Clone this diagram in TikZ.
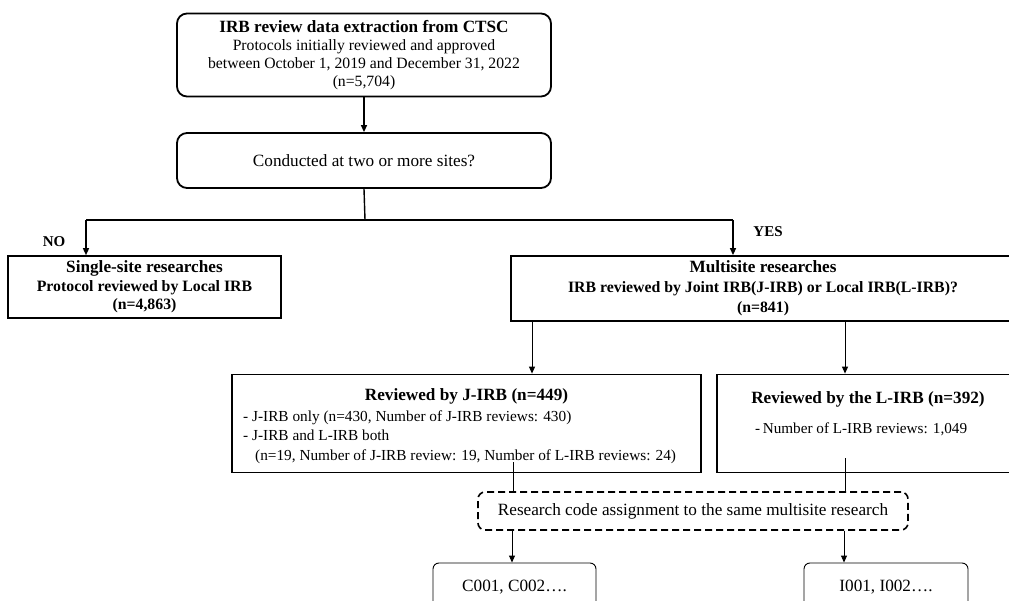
\documentclass[tikz,border=0pt]{standalone}
\usepackage{fontspec}
\setmainfont{Liberation Serif}
\usetikzlibrary{arrows.meta}
\newcommand{\bigf}{\fontsize{17.2}{18}\selectfont}
\begin{document}
\begin{tikzpicture}[x=1pt,y=-1pt,
  rbox/.style={draw,line width=1.8pt,rounded corners=10pt,inner sep=0pt,align=center},
  sbox/.style={draw,line width=1.6pt,inner sep=0pt,align=center},
  dbox/.style={draw,line width=1.6pt,dash pattern=on 7pt off 4pt,rounded corners=7pt,inner sep=0pt,align=center},
  cbox/.style={draw,line width=0.9pt,rounded corners=6pt,inner sep=0pt,align=center},
  txt/.style={inner sep=0pt},
  lab/.style={inner sep=0pt,font=\fontsize{15}{16}\selectfont\bfseries},
  arr/.style={line width=1.4pt,-{Triangle[length=7pt,width=6pt]}},
  ln/.style={line width=1.4pt},
  tarr/.style={line width=0.9pt,-{Triangle[length=7pt,width=6pt]}},
  tln/.style={line width=0.9pt}]
\useasboundingbox (0,0) rectangle (1009,601);
\clip (0,0) rectangle (1009,601);
% boxes
\node[rbox,minimum width=374pt,minimum height=83pt,font=\fontsize{15.7}{17.8}\selectfont] (top) at (364,55)
  {{\bigf\bfseries IRB review data extraction from CTSC}\\Protocols initially reviewed and approved\\between October 1, 2019 and December 31, 2022\\(n=5,704)};
\node[rbox,minimum width=374pt,minimum height=55pt,font=\bigf] (sites) at (364,160.5)
  {Conducted at two or more sites?};
\node[sbox,minimum width=273pt,minimum height=62pt,font=\fontsize{15.8}{18.6}\selectfont\bfseries] (single) at (144.5,287)
  {{\bigf Single-site researches}\\Protocol reviewed by Local IRB\\(n=4,863)};
\node[sbox,line width=1.8pt,minimum width=504pt,minimum height=65pt,font=\fontsize{15.8}{20}\selectfont\bfseries] (multi) at (763,288.5)
  {{\bigf Multisite researches}\\IRB reviewed by Joint IRB(J-IRB) or Local IRB(L-IRB)?\\(n=841)};
\node[sbox,line width=1.8pt,minimum width=469pt,minimum height=98pt] (jirb) at (466.5,423.5) {};
\node[txt,font=\bigf\bfseries] (jtitle) at (466.5,396) {Reviewed by J-IRB (n=449)};
\node[txt,anchor=west,align=left,font=\fontsize{15.3}{19.3}\selectfont] (jlist) at (243,437)
  {- J-IRB only (n=430, Number of J-IRB reviews: 430)\\- J-IRB and L-IRB both\\\hspace*{12pt}(n=19, Number of J-IRB review: 19, Number of L-IRB reviews: 24)};
\node[sbox,line width=1.8pt,minimum width=302pt,minimum height=98pt] (lirb) at (868,423.5) {};
\node[txt,font=\bigf\bfseries] (ltitle) at (868,399) {Reviewed by the L-IRB (n=392)};
\node[txt,anchor=west,font=\fontsize{15.2}{18}\selectfont] (llist) at (755,429) {-\,Number of L-IRB reviews: 1,049};
\node[dbox,minimum width=430pt,minimum height=38pt,font=\bigf] (code) at (693,511)
  {Research code assignment to the same multisite research};
\node[cbox,minimum width=163pt,minimum height=48pt,font=\bigf] (cc) at (514.5,587) {C001, C002….};
\node[cbox,minimum width=164pt,minimum height=48pt,font=\bigf] (ii) at (886,587) {I001, I002….};
% labels
\node[lab] (no) at (54,242) {NO};
\node[lab] (yes) at (768,232) {YES};
% coordinates
\coordinate (split) at (365,220);
\coordinate (nox) at (86,220);
\coordinate (yesx) at (733,220);
\coordinate (jx) at (532,0);
\coordinate (lx) at (845,0);
\coordinate (jstart) at (513,462);
\coordinate (lstart) at (845,458);
\coordinate (cx) at (512,0);
\coordinate (ix) at (844,0);
% connectors
\draw[arr] (top.south) -- (sites.north);
\draw[ln] (sites.south) -- (split);
\draw[arr] (nox) -- (single.north -| nox);
\draw[arr] (yesx) -- (multi.north -| yesx);
\draw[ln] (nox) -- (yesx);
\draw[tarr] (multi.south -| jx) -- (jirb.north -| jx);
\draw[tarr] (multi.south -| lx) -- (lirb.north -| lx);
\draw[tln] (jstart) -- (code.north -| jstart);
\draw[tln] (lstart) -- (code.north -| lstart);
\draw[tarr] (code.south -| cx) -- (cc.north -| cx);
\draw[tarr] (code.south -| ix) -- (ii.north -| ix);
\end{tikzpicture}
\end{document}
